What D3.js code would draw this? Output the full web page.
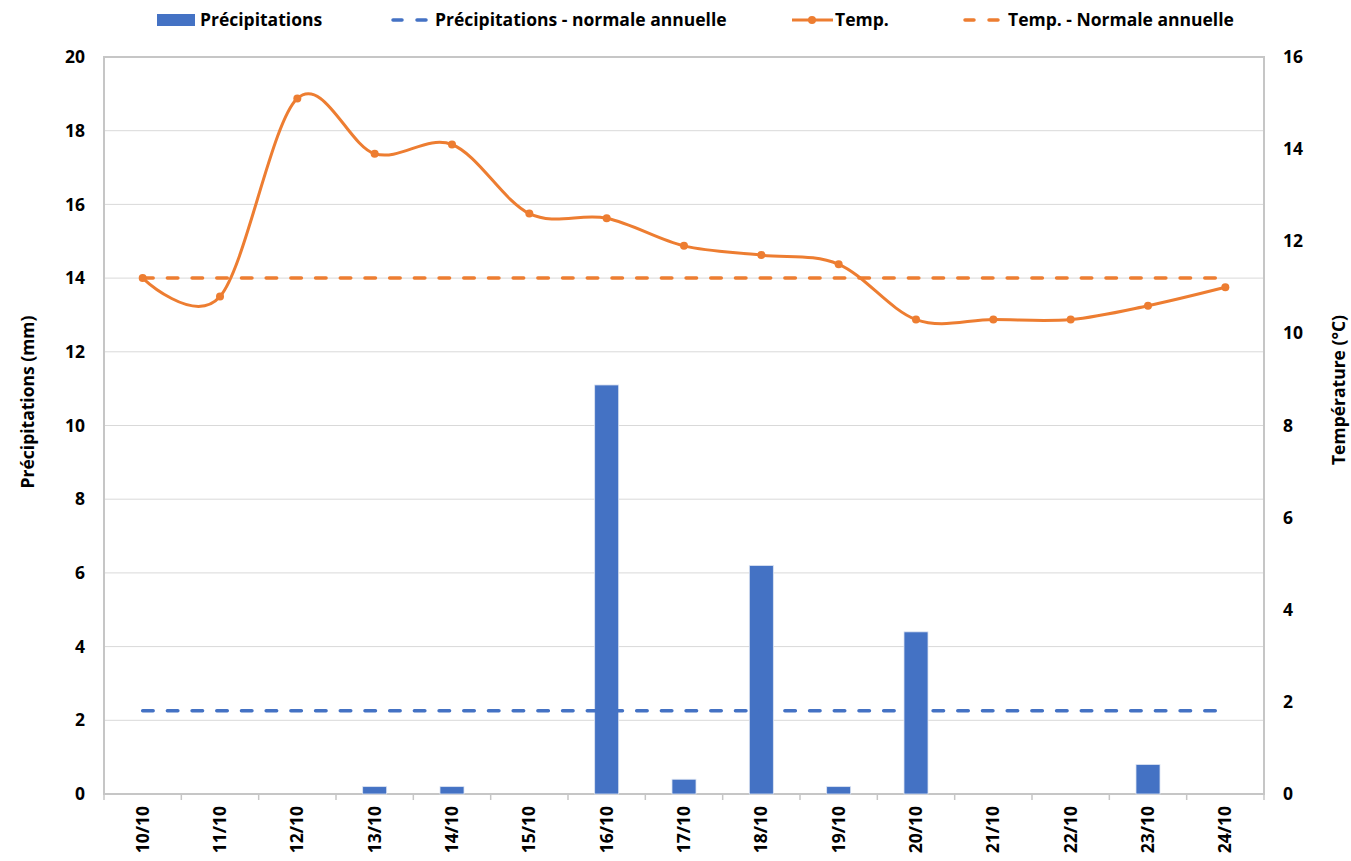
<!DOCTYPE html>
<html>
<head>
<meta charset="utf-8">
<script src="https://cdn.jsdelivr.net/npm/d3@7"></script>
<style>
  body { margin: 0; background: #fff; }
  text { font-family: "Open Sans", Lato, sans-serif; font-weight: bold; fill: #000; }
</style>
</head>
<body>
<div id="chart"></div>
<script>
// data
const dates = ["10/10","11/10","12/10","13/10","14/10","15/10","16/10","17/10","18/10","19/10","20/10","21/10","22/10","23/10","24/10"];
const precip = [0, 0, 0, 0.2, 0.2, 0, 11.1, 0.4, 6.2, 0.2, 4.4, 0, 0, 0.8, 0];
const temp = [11.2, 10.8, 15.1, 13.9, 14.1, 12.6, 12.5, 11.9, 11.7, 11.5, 10.3, 10.3, 10.3, 10.6, 11.0];
const precipNormal = 2.26;
const tempNormal = 11.2;
const precipTicks = [0, 2, 4, 6, 8, 10, 12, 14, 16, 18, 20];
const tempTicks = [0, 2, 4, 6, 8, 10, 12, 14, 16];

const width = 1351, height = 861;
const margin = {top: 57, right: 87, bottom: 67, left: 104};
const w = width - margin.left - margin.right;
const h = height - margin.top - margin.bottom;

const blue = "#4472C4", orange = "#ED7D31";
const fs = "17.5px";

let svg = d3.select("#chart")
    .append("svg")
    .attr("width", width)
    .attr("height", height);

let g = svg.append("g")
    .attr("transform", `translate(${margin.left},${margin.top})`);

let x = d3.scaleBand().domain(dates).range([0, w]).padding(0);
let yL = d3.scaleLinear().domain([0, 20]).range([h, 0]);
let yR = d3.scaleLinear().domain([0, 16]).range([h, 0]);
let cx = d => x(d) + x.bandwidth() / 2;

// gridlines
g.append("g")
    .selectAll("line")
    .data(precipTicks.slice(1, -1))
    .enter().append("line")
    .attr("x1", 0).attr("x2", w)
    .attr("y1", d => yL(d)).attr("y2", d => yL(d))
    .attr("stroke", "#d9d9d9")
    .attr("stroke-width", 1);

// plot frame
g.append("rect")
    .attr("x", 0).attr("y", 0)
    .attr("width", w).attr("height", h)
    .attr("fill", "none")
    .attr("stroke", "#c6c6c6")
    .attr("stroke-width", 2);

// x axis, labels rotated, ticks on band edges
let xAxis = g.append("g")
    .attr("transform", `translate(0,${h})`)
    .call(d3.axisBottom(x).tickSize(0).tickPadding(0));
xAxis.select(".domain").remove();
xAxis.selectAll("text")
    .attr("transform", "rotate(-90)")
    .attr("x", -12)
    .attr("y", 0)
    .attr("dy", "0.35em")
    .style("text-anchor", "end")
    .style("font-size", fs);
g.append("g")
    .selectAll("line")
    .data(dates.concat(["end"]))
    .enter().append("line")
    .attr("x1", (d, i) => i * x.step()).attr("x2", (d, i) => i * x.step())
    .attr("y1", h).attr("y2", h + 6)
    .attr("stroke", "#c6c6c6")
    .attr("stroke-width", 1.5);

// left axis
let left = g.append("g")
    .call(d3.axisLeft(yL).tickValues(precipTicks).tickSize(0).tickPadding(19));
left.select(".domain").remove();
left.selectAll("text").style("font-size", fs);

// right axis
let right = g.append("g")
    .attr("transform", `translate(${w},0)`)
    .call(d3.axisRight(yR).tickValues(tempTicks).tickSize(0).tickPadding(19));
right.select(".domain").remove();
right.selectAll("text").style("font-size", fs);

// bars
let barW = 24;
g.append("g")
    .selectAll("rect")
    .data(dates.map((d, i) => ({date: d, v: precip[i]})).filter(d => d.v > 0))
    .enter().append("rect")
    .attr("x", d => cx(d.date) - barW / 2)
    .attr("y", d => yL(d.v))
    .attr("width", barW)
    .attr("height", d => h - yL(d.v))
    .attr("fill", blue)
    .attr("stroke", "#dde4f2")
    .attr("stroke-width", 0.8);

// normal lines
g.append("line")
    .attr("x1", cx(dates[0])).attr("x2", cx(dates[dates.length - 1]))
    .attr("y1", yL(precipNormal)).attr("y2", yL(precipNormal))
    .attr("stroke", blue)
    .attr("stroke-width", 3.5)
    .attr("stroke-linecap", "round")
    .attr("stroke-dasharray", "10.5 14.2");

g.append("line")
    .attr("x1", cx(dates[0])).attr("x2", cx(dates[dates.length - 1]))
    .attr("y1", yR(tempNormal)).attr("y2", yR(tempNormal))
    .attr("stroke", orange)
    .attr("stroke-width", 3.5)
    .attr("stroke-linecap", "round")
    .attr("stroke-dasharray", "10.5 14.2");

// temperature line (smoothed)
let tData = dates.map((d, i) => ({date: d, v: temp[i]}));
g.append("path")
    .datum(tData)
    .attr("fill", "none")
    .attr("stroke", orange)
    .attr("stroke-width", 3)
    .attr("d", d3.line()
        .x(d => cx(d.date))
        .y(d => yR(d.v))
        .curve(d3.curveCatmullRom.alpha(0)));

g.append("g")
    .selectAll("circle")
    .data(tData)
    .enter().append("circle")
    .attr("cx", d => cx(d.date))
    .attr("cy", d => yR(d.v))
    .attr("r", 4)
    .attr("fill", orange);

// axis titles
svg.append("text")
    .attr("transform", `translate(34, 402) rotate(-90)`)
    .style("text-anchor", "middle")
    .style("font-size", fs)
    .text("Précipitations (mm)");

svg.append("text")
    .attr("transform", `translate(1345, 390) rotate(-90)`)
    .style("text-anchor", "middle")
    .style("font-size", fs)
    .text("Température (°C)");

// legend
let legend = svg.append("g").attr("transform", "translate(0,20)");

legend.append("rect")
    .attr("x", 157).attr("y", -6).attr("width", 38).attr("height", 12)
    .attr("fill", blue);
legend.append("text").attr("x", 200).attr("y", 0).attr("dy", "0.35em")
    .style("font-size", fs).text("Précipitations");

legend.append("line")
    .attr("x1", 393).attr("x2", 428).attr("y1", 0).attr("y2", 0)
    .attr("stroke", blue).attr("stroke-width", 3.5)
    .attr("stroke-linecap", "round").attr("stroke-dasharray", "9 15");
legend.append("text").attr("x", 435).attr("y", 0).attr("dy", "0.35em")
    .style("font-size", fs).text("Précipitations - normale annuelle");

legend.append("line")
    .attr("x1", 792).attr("x2", 833).attr("y1", 0).attr("y2", 0)
    .attr("stroke", orange).attr("stroke-width", 3);
legend.append("circle")
    .attr("cx", 812).attr("cy", 0).attr("r", 4).attr("fill", orange);
legend.append("text").attr("x", 835).attr("y", 0).attr("dy", "0.35em")
    .style("font-size", fs).text("Temp.");

legend.append("line")
    .attr("x1", 965).attr("x2", 1000).attr("y1", 0).attr("y2", 0)
    .attr("stroke", orange).attr("stroke-width", 3.5)
    .attr("stroke-linecap", "round").attr("stroke-dasharray", "9 15");
legend.append("text").attr("x", 1008).attr("y", 0).attr("dy", "0.35em")
    .style("font-size", fs).text("Temp. - Normale annuelle");
</script>
</body>
</html>
